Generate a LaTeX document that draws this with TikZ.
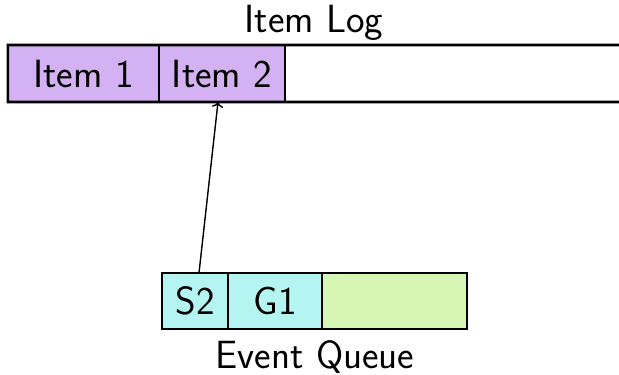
\documentclass[tikz,border=0pt]{standalone}
\usepackage{tikz}
\usetikzlibrary{arrows.meta}
\definecolor{itempurple}{RGB}{212,177,242}
\definecolor{eventcyan}{RGB}{180,245,241}
\definecolor{freegreen}{RGB}{215,245,180}

\begin{document}
\begin{tikzpicture}[x=0.025cm, y=-0.025cm]
    \tikzstyle{cell_style} = [draw, line width=1.1pt, inner sep=0pt, outer sep=0pt,
                              font=\sffamily\fontsize{28}{33}\selectfont]
    \tikzstyle{outline_style} = [line width=1.8pt, black]
    \tikzstyle{title_style} = [anchor=base, font=\sffamily\fontsize{28}{33}\selectfont]

    \useasboundingbox (0,0) rectangle (619,375);

    % the log: two filled items, then open to the right
    \begin{scope}
      \node[cell_style, fill=itempurple, minimum width=3.775cm, minimum height=1.425cm]
        (item1) at (83.5,73.5) {Item 1};
      \node[cell_style, fill=itempurple, minimum width=3.15cm, minimum height=1.425cm]
        (item2) at (222,73.5) {Item 2};
      \coordinate (logtop) at (619,45);
      \coordinate (logbot) at (619,102);
      \draw[outline_style] (logtop) -- (item1.north west) -- (item1.south west) -- (logbot);
      \node[title_style] (logtitle) at (314,32) {Item Log};
    \end{scope}

    % the queue: two events and the free slot
    \begin{scope}
      \node[cell_style, fill=eventcyan, minimum width=1.65cm, minimum height=1.4cm]
        (s2) at (195,301) {S2};
      \node[cell_style, fill=eventcyan, minimum width=2.35cm, minimum height=1.4cm]
        (g1) at (275,301) {G1};
      \node[cell_style, fill=freegreen, minimum width=3.625cm, minimum height=1.4cm]
        (free) at (394.5,301) {};
      \draw[outline_style] (s2.north west) rectangle (free.south east);
      \node[title_style] (queuetitle) at (315,368) {Event Queue};
    \end{scope}

    \draw[->, line width=1pt] ([xshift=0.1cm]s2.north) -- ([xshift=-0.1cm]item2.south);
\end{tikzpicture}
\end{document}
